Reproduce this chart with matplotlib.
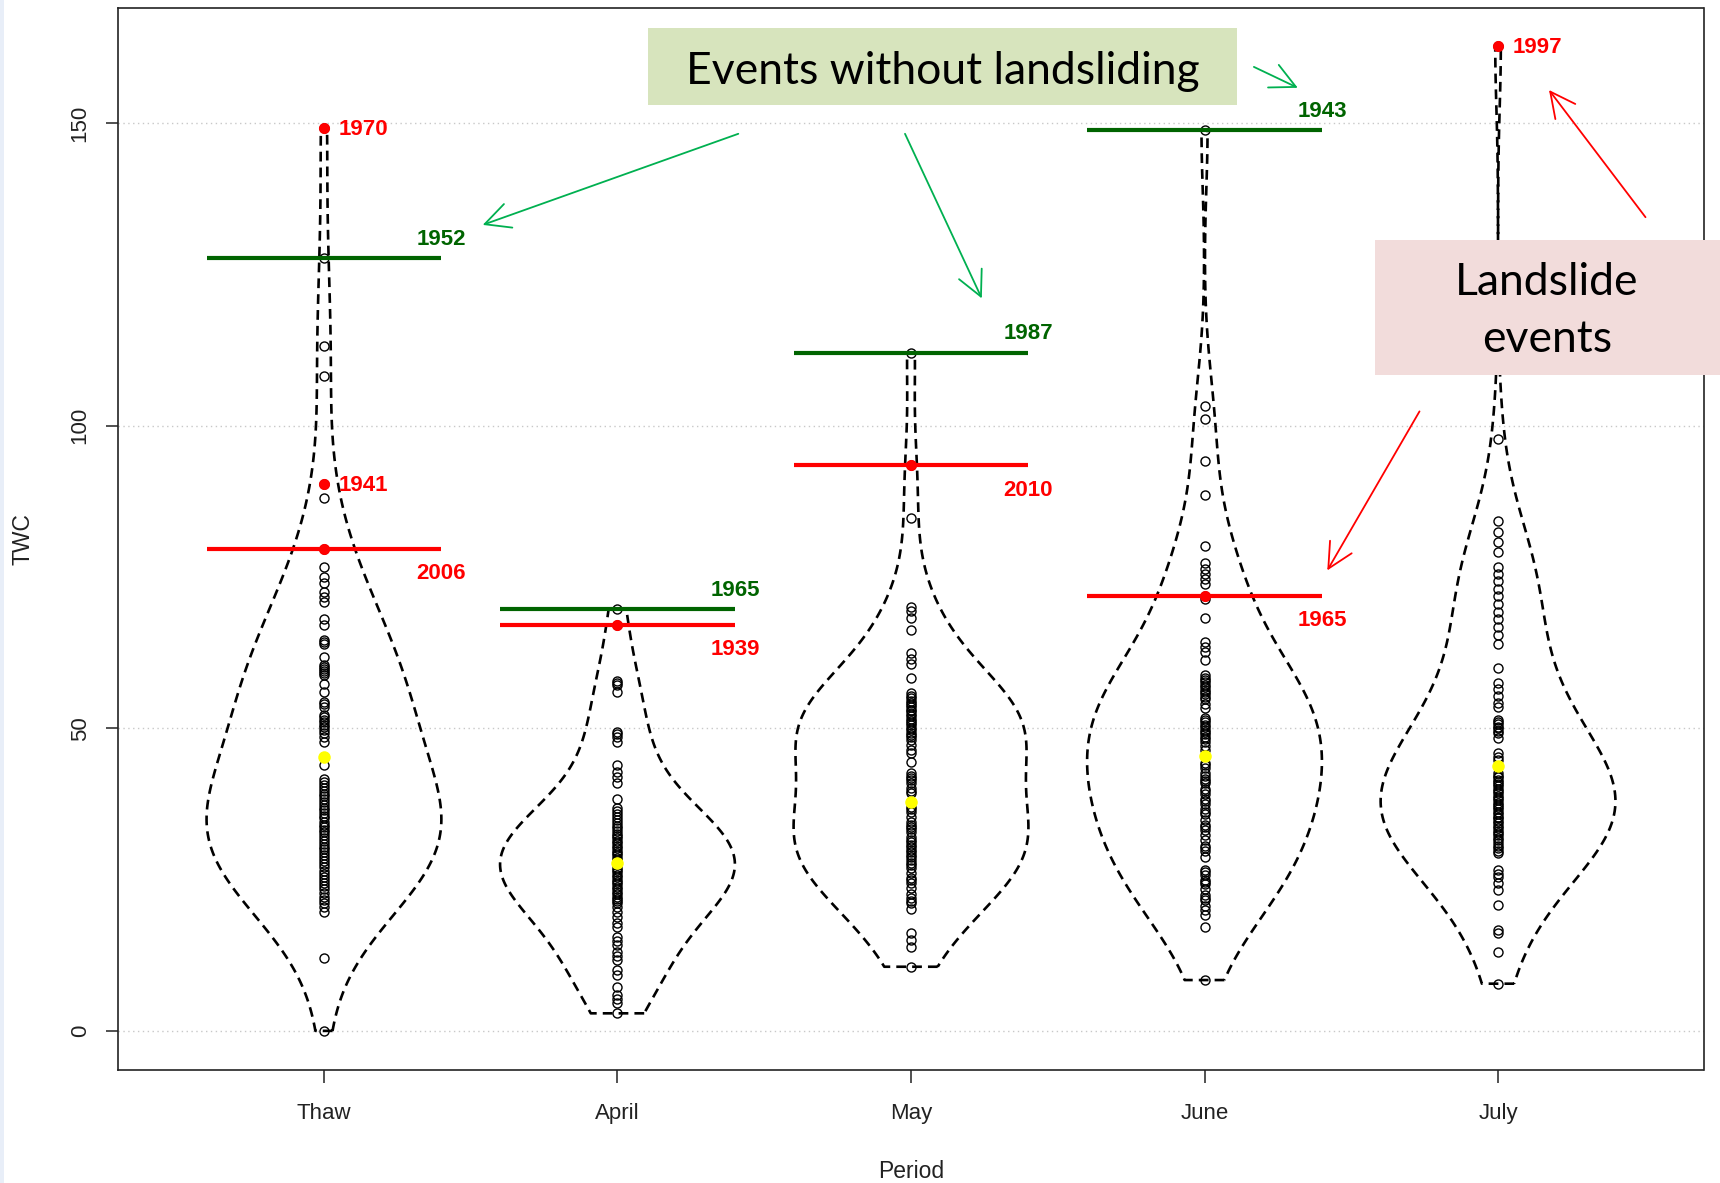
import numpy as np
import matplotlib
matplotlib.use('Agg')
import matplotlib.pyplot as plt
from matplotlib.patches import Rectangle

plt.rcParams['font.family'] = ['Liberation Sans', 'DejaVu Sans']

# ---------------- data ----------------
periods = ['Thaw', 'April', 'May', 'June', 'July']

twc_thaw = [149.3, 127.7, 113.2, 108.2, 90.4, 88.0, 79.7, 76.6, 75.0, 74.0, 72.6, 71.7,
            70.9, 68.0, 67.1, 64.6, 64.2, 64.0, 61.8, 60.5, 60.1, 59.8, 59.5, 59.2, 58.8,
            57.4, 56.0, 54.4, 54.1, 53.6, 52.2, 51.8, 51.4, 51.0, 50.6, 50.2, 49.8, 49.2,
            48.6, 47.8, 45.3, 43.9, 41.7, 41.2, 40.6, 40.2, 39.7, 39.2, 38.8, 38.3, 37.8,
            37.4, 36.9, 36.5, 36.0, 35.5, 35.1, 34.6, 34.1, 33.7, 33.2, 32.8, 32.3, 31.8,
            31.4, 30.9, 30.4, 30.0, 29.5, 29.0, 28.5, 28.1, 27.6, 27.1, 26.5, 26.0, 25.5,
            25.0, 24.5, 24.0, 23.4, 22.8, 22.1, 21.6, 21.2, 20.5, 19.7, 12.0, 0.0]
twc_april = [69.7, 67.1, 57.9, 57.5, 57.1, 56.0, 49.4, 49.0, 48.6, 47.8, 43.9, 42.8, 41.9,
             40.9, 38.4, 36.8, 36.3, 35.8, 35.4, 34.8, 34.3, 33.9, 33.5, 33.0, 32.6, 32.2,
             31.8, 31.4, 31.0, 30.6, 30.2, 29.8, 29.4, 29.0, 28.6, 28.2, 27.8, 27.4, 27.0,
             26.6, 26.2, 25.8, 25.4, 25.0, 24.6, 24.2, 23.8, 23.4, 23.0, 22.6, 22.2, 21.8,
             21.4, 21.1, 20.5, 19.6, 18.8, 17.9, 17.2, 15.5, 14.8, 14.2, 13.0, 12.4, 11.7,
             10.0, 9.2, 7.3, 6.0, 5.2, 4.6, 2.9]
twc_may = [112.1, 93.5, 84.7, 70.1, 69.4, 68.3, 66.2, 62.4, 61.5, 60.7, 58.3, 55.8, 55.4,
           55.0, 54.6, 54.2, 53.8, 53.5, 53.1, 52.8, 52.4, 52.0, 51.6, 51.2, 50.9, 50.5,
           50.1, 49.7, 49.3, 48.9, 48.5, 48.1, 47.3, 46.5, 45.9, 44.5, 42.6, 42.2, 41.8,
           41.4, 41.0, 40.1, 39.7, 39.3, 37.0, 36.6, 36.2, 35.4, 34.5, 34.1, 33.7, 33.3,
           32.9, 32.0, 31.6, 31.2, 30.8, 30.4, 29.9, 29.5, 29.1, 28.7, 28.2, 27.8, 27.4,
           27.0, 26.1, 25.3, 24.9, 24.4, 23.6, 22.7, 21.9, 21.5, 21.1, 20.2, 16.1, 15.0,
           13.9, 10.6]
twc_june = [148.9, 103.3, 101.2, 94.2, 88.6, 80.1, 77.4, 76.3, 75.5, 74.7, 73.8, 71.9, 71.3,
            68.2, 64.3, 63.5, 62.6, 61.3, 58.8, 58.4, 58.0, 57.6, 57.2, 56.8, 56.4, 56.0,
            55.6, 55.2, 54.8, 54.1, 53.3, 51.7, 51.3, 51.0, 50.6, 50.2, 49.8, 49.4, 49.0,
            48.6, 48.2, 47.8, 47.0, 46.4, 44.3, 43.9, 43.5, 42.6, 42.2, 41.7, 41.3, 40.9,
            40.0, 39.6, 39.2, 38.4, 38.0, 37.5, 36.6, 36.2, 35.8, 34.9, 34.1, 33.7, 33.2,
            32.4, 31.5, 30.6, 30.2, 29.7, 28.8, 26.6, 26.2, 25.8, 25.0, 24.6, 24.2, 23.4,
            22.5, 22.0, 21.6, 20.7, 19.9, 19.1, 17.1, 8.4]
twc_july = [162.8, 97.8, 84.3, 82.5, 80.8, 79.2, 76.7, 75.5, 74.3, 73.0, 71.8, 70.6, 69.2,
            68.0, 66.7, 65.4, 64.0, 59.9, 57.5, 56.5, 55.3, 54.2, 53.6, 51.4, 51.0, 50.7,
            50.3, 50.0, 49.6, 49.3, 48.4, 45.9, 45.3, 44.8, 42.6, 42.2, 41.9, 41.5, 41.2,
            40.8, 40.4, 40.0, 39.6, 39.3, 38.9, 38.5, 38.1, 37.7, 37.4, 37.0, 36.6, 36.2,
            35.8, 35.4, 35.1, 34.7, 34.3, 33.9, 33.5, 33.1, 32.7, 32.3, 31.9, 31.5, 31.1,
            30.6, 30.2, 29.8, 29.4, 26.6, 26.0, 25.5, 24.4, 23.3, 20.8, 16.6, 16.1, 13.1,
            7.8]

medians = [45.3, 27.7, 37.9, 45.5, 43.8]

# landslide events marked with a threshold line
ls_line_period = ['Thaw', 'April', 'May', 'June']
ls_line_value = [79.7, 67.1, 93.5, 71.9]
ls_line_year = ['2006', '1939', '2010', '1965']

# other landslide events (points only)
ls_pt_period = ['Thaw', 'Thaw', 'July']
ls_pt_value = [149.3, 90.4, 162.8]
ls_pt_year = ['1970', '1941', '1997']

# events without landsliding (threshold lines)
nols_period = ['Thaw', 'April', 'May', 'June']
nols_value = [127.7, 69.7, 112.1, 148.9]
nols_year = ['1952', '1965', '1987', '1943']

groups = [twc_thaw, twc_april, twc_may, twc_june, twc_july]

# ---------------- figure ----------------
W, H = 1720, 1183
fig = plt.figure(figsize=(W / 100, H / 100), dpi=100)
ax = fig.add_axes([118.5 / W, 1 - 1069.6 / H, (1703.5 - 118.5) / W, (1069.6 - 7.7) / H])

pos = np.arange(1, len(periods) + 1)
pidx = {p: i + 1 for i, p in enumerate(periods)}

parts = ax.violinplot(groups, positions=pos, widths=0.8, showextrema=False,
                      bw_method='silverman', points=300)
for b in parts['bodies']:
    b.set_alpha(1)
    b.set_facecolor('none')
    b.set_edgecolor('black')
    b.set_linewidth(1.9)
    b.set_linestyle((0, (3.7, 2.3)))
    b.set_zorder(3)

for i, g in enumerate(groups):
    ax.plot(np.full(len(g), pos[i]), g, 'o', ms=6.5, mfc='none', mec='black',
            mew=1.0, zorder=4)

RED = '#FF0000'
DKGREEN = '#006400'

for p, v, y in zip(nols_period, nols_value, nols_year):
    x = pidx[p]
    ax.hlines(v, x - 0.4, x + 0.4, colors=DKGREEN, lw=3, zorder=5)
    ax.annotate(y, (x + 0.4, v), xytext=(0, 13.5), textcoords='offset points',
                ha='center', va='center', color=DKGREEN, fontweight='bold', fontsize=16)

for p, v, y in zip(ls_line_period, ls_line_value, ls_line_year):
    x = pidx[p]
    ax.hlines(v, x - 0.4, x + 0.4, colors=RED, lw=3, zorder=5)
    ax.plot(x, v, 'o', color=RED, ms=7, zorder=6)
    ax.annotate(y, (x + 0.4, v), xytext=(0, -18), textcoords='offset points',
                ha='center', va='center', color=RED, fontweight='bold', fontsize=16)

for p, v, y in zip(ls_pt_period, ls_pt_value, ls_pt_year):
    x = pidx[p]
    ax.plot(x, v, 'o', color=RED, ms=7, zorder=6)
    ax.annotate(y, (x, v), xytext=(10.5, -1.5), textcoords='offset points',
                ha='left', va='center', color=RED, fontweight='bold', fontsize=16)

ax.plot(pos, medians, 'o', color='yellow', mec='yellow', ms=8, zorder=6)

ax.set_xlim(0.3, 5.7)
ax.set_ylim(-6.4, 169.1)
ax.set_xticks(pos)
ax.set_xticklabels(periods)
ax.set_yticks([0, 50, 100, 150])
ax.set_axisbelow(True)
ax.yaxis.grid(True, linestyle=(0, (1, 2.5)), color='#C8C8C8', lw=1)
ax.tick_params(axis='both', length=9, width=1.1, labelsize=16, colors='#222222')
ax.tick_params(axis='x', pad=15)
ax.tick_params(axis='y', pad=11)
plt.setp(ax.get_yticklabels(), rotation=90, va='center')
for s in ax.spines.values():
    s.set_linewidth(1.2)
    s.set_color('#222222')

ax.set_xlabel('Period', fontsize=16.5, color='#222222')
ax.set_ylabel('TWC', fontsize=16.5, color='#222222')
ax.xaxis.label.set_va('center')
ax.xaxis.set_label_coords(0.5, (1069.6 - 1171) / (1069.6 - 7.7))
ax.yaxis.label.set_va('center')
ax.yaxis.set_label_coords((23 - 118.5) / (1703.5 - 118.5), 0.5)

# ---------------- callouts ----------------
def fx(x):
    return x / W

def fy(y):
    return 1 - y / H

fig.add_artist(Rectangle((0, 0), 4 / W, 1, transform=fig.transFigure,
                         facecolor='#E8EEF8', edgecolor='none', zorder=10))

fig.add_artist(Rectangle((fx(648), fy(105)), (1237 - 648) / W, (105 - 28.5) / H,
                         transform=fig.transFigure, facecolor='#D7E4BD',
                         edgecolor='none', zorder=10))
fig.text(fx(943), fy(71.5), 'Events without landsliding', ha='center', va='center',
         fontsize=32, family=['Lato', 'DejaVu Sans'], color='black', zorder=11)

fig.add_artist(Rectangle((fx(1374.5), fy(375)), (W - 1374.5) / W, (375 - 240) / H,
                         transform=fig.transFigure, facecolor='#F2DCDB',
                         edgecolor='none', zorder=10))
fig.text(fx(1547), fy(311), 'Landslide\nevents', ha='center', va='center',
         multialignment='center', linespacing=1.5,
         fontsize=32, family=['Lato', 'DejaVu Sans'], color='black', zorder=11)

GREEN_ARROW = '#00B050'
arrows = [
    ((738.3, 133.8), (482.7, 224.9), GREEN_ARROW),
    ((905.0, 133.8), (981.8, 298.4), GREEN_ARROW),
    ((1253.9, 66.9), (1297.8, 87.8), GREEN_ARROW),
    ((1645.5, 217.2), (1549.0, 90.0), RED),
    ((1419.5, 411.4), (1327.3, 570.4), RED),
]
for (tx, ty), (hx, hy), c in arrows:
    ax.annotate('', xy=(hx, H - hy), xytext=(tx, H - ty), xycoords='figure pixels',
                textcoords='figure pixels', annotation_clip=False,
                arrowprops=dict(arrowstyle='->,head_length=0.9,head_width=0.45',
                                color=c, lw=1.3, mutation_scale=20,
                                shrinkA=0, shrinkB=0))

fig.savefig('out.png', dpi=100)
